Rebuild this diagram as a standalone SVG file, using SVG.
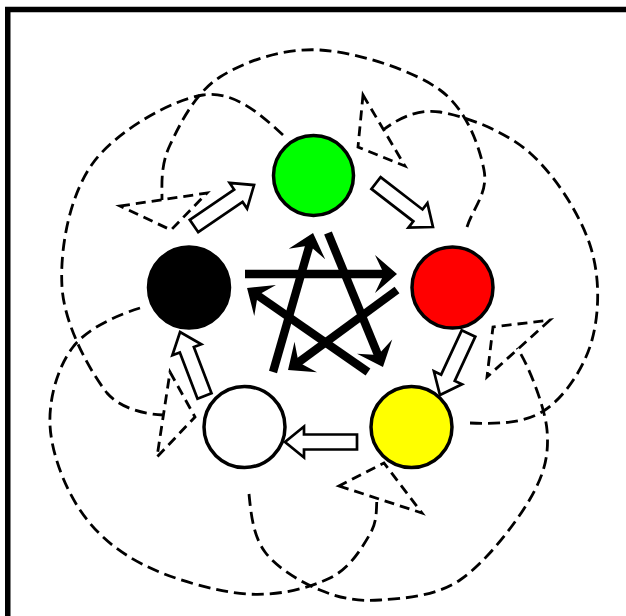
<svg xmlns="http://www.w3.org/2000/svg" width="626" height="616" viewBox="0 0 626 616">
<style>
.frame{fill:none;stroke:#000;stroke-width:5.5}
.node{stroke:#000;stroke-width:3.5}
.dash{fill:none;stroke:#000;stroke-width:2.8;stroke-dasharray:12 6}
.tri{fill:none;stroke:#000;stroke-width:2.8;stroke-dasharray:10 6;stroke-linejoin:miter}
.gen{fill:#fff;stroke:#000;stroke-width:2.7;stroke-linejoin:miter}
.star{fill:none;stroke:#000;stroke-width:8.3;marker-end:url(#sh)}
</style>
<defs>
<marker id="sh" markerUnits="userSpaceOnUse" viewBox="-30 -20 40 40" markerWidth="40" markerHeight="40" refX="-12" refY="0" orient="auto"><path d="M0,0 L-22,-19 L-13,0 L-22,19 Z" fill="#000"/></marker>
</defs>
<rect class="frame" x="7.75" y="9.5" width="700" height="700"/>
<g id="connectors">
<g id="insult">
<path class="dash" d="M283,135 C261,115 234.7,90.3 203,95 C171.3,99.7 116.5,131 93,163 C69.5,195 59.7,248.7 62,287 C64.3,325.3 90.2,371.7 107,393 C120,408 143,414 163,415"/>
<polygon class="tri" points="170,372 195,417 157,457"/>
<path class="dash" d="M467,227 C473,208 488.5,192.8 484,170 C479.5,147.2 467.3,110 440,90 C412.7,70 356.7,52.2 320,50 C283.3,47.8 245,61.2 220,77 C195,92.8 179.7,124.5 170,145 C160.3,165.5 162,185 162,200"/>
<polygon class="tri" points="120,206 207,193 171,230"/>
<path class="dash" d="M470,423 C497,424 524.7,423.8 545,410 C565.3,396.2 584.5,367.5 592,340 C599.5,312.5 600.3,276.2 590,245 C579.7,213.8 555,175.2 530,153 C505,130.8 464.5,115.8 440,112 C415.5,108.2 395,121 383,130"/>
<polygon class="tri" points="363,95 405,166 358,147"/>
<path class="dash" d="M249,494 C251,514 253.2,536 265,552 C276.8,568 300.8,582 320,590 C339.2,598 356.7,601.7 380,600 C403.3,598.3 435,596.8 460,580 C485,563.2 515.5,524 530,499 C544.5,474 549.2,455.2 547,430 C544.8,404.8 526,360 517,348"/>
<polygon class="tri" points="550,320 487,377 493,327"/>
<path class="dash" d="M140,308 C118,315 88,327.5 73,347 C58,366.5 48.8,397.8 50,425 C51.2,452.2 64.3,486.7 80,510 C95.7,533.3 116.2,551 144,565 C171.8,579 216,591.8 247,594 C278,596.2 309.5,588 330,578 C350.5,568 362.2,547.3 370,534 C377.8,520.7 376,508 377,498"/>
<polygon class="tri" points="339,486 422,513 384,463"/>
</g>
<g id="generate">
<path class="gen" transform="translate(194,226) rotate(-34.3)" d="M0,-7.5 H53.7 V-15.5 L72.7,0 L53.7,15.5 V7.5 H0 Z"/>
<path class="gen" transform="translate(376,183) rotate(37.7)" d="M0,-7.5 H53 V-15.5 L72,0 L53,15.5 V7.5 H0 Z"/>
<path class="gen" transform="translate(468.5,333.5) rotate(114.9)" d="M0,-7.5 H48.8 V-15.5 L67.8,0 L48.8,15.5 V7.5 H0 Z"/>
<path class="gen" transform="translate(357,442) rotate(180)" d="M0,-7.5 H53 V-15.5 L72,0 L53,15.5 V7.5 H0 Z"/>
<path class="gen" transform="translate(204.5,396) rotate(-110.9)" d="M0,-7.5 H49.5 V-15.5 L68.5,0 L49.5,15.5 V7.5 H0 Z"/>
</g>
<g id="overcome">
<line class="star" x1="245" y1="274" x2="385" y2="274"/>
<line class="star" x1="273" y1="372" x2="309.7" y2="244.5"/>
<line class="star" x1="328" y1="233" x2="378.4" y2="355.9"/>
<line class="star" x1="397" y1="290" x2="297.7" y2="362.9"/>
<line class="star" x1="368" y1="372" x2="256.9" y2="294.8"/>
</g>
</g>
<g id="wood"><circle class="node" cx="313.5" cy="175.5" r="40" fill="#00ff00"/></g>
<g id="fire"><circle class="node" cx="452.5" cy="287.5" r="40.5" fill="#ff0000"/></g>
<g id="earth"><circle class="node" cx="411.5" cy="427" r="40.5" fill="#ffff00"/></g>
<g id="metal"><circle class="node" cx="244.5" cy="427" r="40.5" fill="#ffffff"/></g>
<g id="water"><circle class="node" cx="189" cy="287.5" r="40.5" fill="#000000"/></g>
</svg>
